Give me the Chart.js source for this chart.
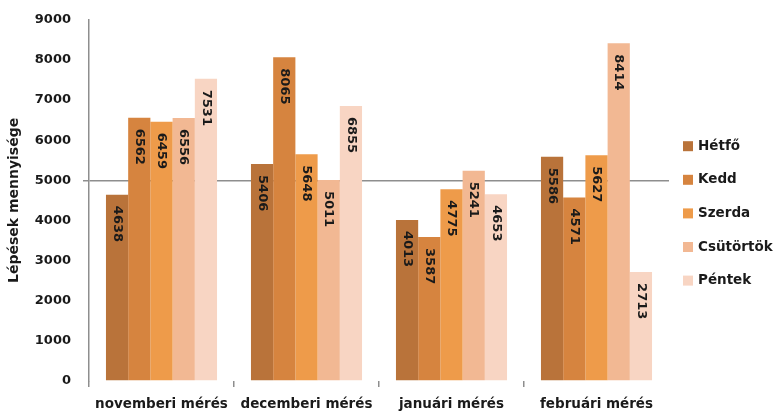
<!DOCTYPE html>
<html>
<head>
<meta charset="utf-8">
<script src="https://cdn.jsdelivr.net/npm/chart.js@4/dist/chart.umd.min.js"></script>
<style>
  html, body { margin: 0; padding: 0; background: #ffffff; }
  canvas { display: block; }
</style>
</head>
<body>
<canvas id="chart" width="776" height="412"></canvas>
<script>
// Measurement months (x categories)
const categories = ['novemberi mérés', 'decemberi mérés', 'januári mérés', 'februári mérés'];

// Step counts per weekday, one value per measurement month
const hetfo     = [4638, 5406, 4013, 5586];
const kedd      = [6562, 8065, 3587, 4571];
const szerda    = [6459, 5648, 4775, 5627];
const csutortok = [6556, 5011, 5241, 8414];
const pentek    = [7531, 6855, 4653, 2713];

const dayNames  = ['Hétfő', 'Kedd', 'Szerda', 'Csütörtök', 'Péntek'];
const dayColors = ['#B9733A', '#D6843F', '#EE9B4A', '#F2B893', '#F8D5C3'];

// Value axis
const yMin = 0;
const yMax = 9000;
const yStep = 1000;
const refLineValue = 5000;

const axisGray = '#8e8e8e';
const textColor = '#1a1a1a';
const fontFamily = '"DejaVu Sans", sans-serif';

const series = [hetfo, kedd, szerda, csutortok, pentek];

// Vertical value labels written inside the top of each bar
const barValueLabels = {
  id: 'barValueLabels',
  afterDatasetsDraw(chart) {
    const { ctx } = chart;
    ctx.save();
    ctx.font = 'bold 13px ' + fontFamily;
    ctx.fillStyle = textColor;
    ctx.textAlign = 'left';
    ctx.textBaseline = 'middle';
    chart.data.datasets.forEach((ds, di) => {
      const meta = chart.getDatasetMeta(di);
      meta.data.forEach((bar, i) => {
        ctx.save();
        ctx.translate(bar.x, bar.y + 11);
        ctx.rotate(Math.PI / 2);
        ctx.fillText(String(ds.data[i]), 0, 0);
        ctx.restore();
      });
    });
    ctx.restore();
  }
};

// Legend column on the right side of the plot
const sideLegend = {
  id: 'sideLegend',
  afterDraw(chart) {
    const { ctx, chartArea } = chart;
    const x = chartArea.right + 14;
    const step = 33.6;
    const n = chart.data.datasets.length;
    const midY = (chartArea.top + chartArea.bottom) / 2 + 13;
    ctx.save();
    ctx.font = 'bold 13.5px ' + fontFamily;
    ctx.textAlign = 'left';
    ctx.textBaseline = 'middle';
    chart.data.datasets.forEach((ds, i) => {
      const y = midY + (i - (n - 1) / 2) * step;
      ctx.fillStyle = ds.backgroundColor;
      ctx.fillRect(x, y - 5, 10, 10);
      ctx.fillStyle = textColor;
      ctx.fillText(ds.label, x + 15, y);
    });
    ctx.restore();
  }
};

const whiteBackground = {
  id: 'whiteBackground',
  beforeDraw(chart) {
    const { ctx, width, height } = chart;
    ctx.save();
    ctx.fillStyle = '#ffffff';
    ctx.fillRect(0, 0, width, height);
    ctx.restore();
  }
};

new Chart(document.getElementById('chart'), {
  type: 'bar',
  data: {
    labels: categories,
    datasets: series.map((values, i) => ({
      label: dayNames[i],
      data: values,
      backgroundColor: dayColors[i],
      borderWidth: 0,
      categoryPercentage: 0.766,
      barPercentage: 1.0
    }))
  },
  options: {
    responsive: false,
    devicePixelRatio: 1,
    animation: false,
    layout: { padding: { top: 19, right: 107, bottom: 0, left: 0 } },
    plugins: {
      legend: { display: false },
      tooltip: { enabled: false }
    },
    scales: {
      x: {
        offset: true,
        border: { display: false },
        grid: {
          offset: true,
          drawOnChartArea: false,
          drawTicks: true,
          tickLength: 6,
          lineWidth: 1.5,
          color: (c) => (c.type === 'tick' ? axisGray : 'transparent')
        },
        ticks: {
          color: textColor,
          font: { family: fontFamily, size: 13.5, weight: 'bold' },
          padding: 9,
          maxRotation: 0,
          autoSkip: false
        },
        afterFit: (s) => { s.height = 31; }
      },
      y: {
        min: yMin,
        max: yMax,
        border: { display: true, color: axisGray, width: 1.5 },
        grid: {
          drawOnChartArea: true,
          drawTicks: true,
          tickLength: 6,
          lineWidth: 1.5,
          color: (c) => (c.tick && c.tick.value === refLineValue ? axisGray : 'transparent')
        },
        ticks: {
          stepSize: yStep,
          color: textColor,
          font: { family: fontFamily, size: 13, weight: 'bold' },
          padding: 12,
          callback: (v) => String(v)
        },
        title: {
          display: true,
          text: 'Lépések mennyisége',
          color: textColor,
          font: { family: fontFamily, size: 14, weight: 'bold' },
          padding: { top: 6, bottom: 0 }
        },
        afterFit: (s) => { s.width = 89; }
      }
    }
  },
  plugins: [whiteBackground, barValueLabels, sideLegend]
});
</script>
</body>
</html>
